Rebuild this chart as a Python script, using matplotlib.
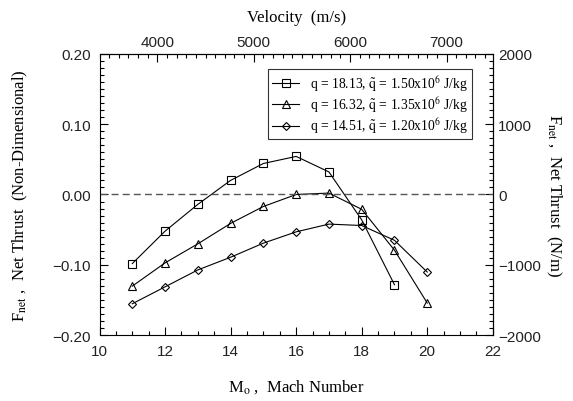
import matplotlib
matplotlib.use("Agg")
import matplotlib.pyplot as plt
from matplotlib.ticker import MultipleLocator, FixedLocator

# ---- data ----
mach_sq = [11, 12, 13, 14, 15, 16, 17, 18, 19]
thrust_sq = [-0.098, -0.052, -0.014, 0.020, 0.044, 0.054, 0.032, -0.036, -0.128]

mach_tri = [11, 12, 13, 14, 15, 16, 17, 18, 19, 20]
thrust_tri = [-0.130, -0.097, -0.070, -0.041, -0.017, 0.000, 0.002, -0.021, -0.079, -0.154]

mach_dia = [11, 12, 13, 14, 15, 16, 17, 18, 19, 20]
thrust_dia = [-0.155, -0.131, -0.107, -0.089, -0.069, -0.053, -0.042, -0.044, -0.065, -0.110]

labels = [
    r"q = 18.13, $\tilde{\mathrm{q}}$ = 1.50x10$^{6}$ J/kg",
    r"q = 16.32, $\tilde{\mathrm{q}}$ = 1.35x10$^{6}$ J/kg",
    r"q = 14.51, $\tilde{\mathrm{q}}$ = 1.20x10$^{6}$ J/kg",
]
x_ticks = [10, 12, 14, 16, 18, 20, 22]
y_ticks = [-0.20, -0.10, 0.00, 0.10, 0.20]
y_ticklabels = ["\u22120.20", "\u22120.10", "0.00", "0.10", "0.20"]
v_ticks = [4000, 5000, 6000, 7000]
n_ticks = [-2000, -1000, 0, 1000, 2000]
n_ticklabels = ["\u22122000", "\u22121000", "0", "1000", "2000"]
sound_speed = 340.0   # m/s per Mach
force_scale = 10000.0  # N/m per non-dimensional unit

plt.rcParams['mathtext.fontset'] = 'stix'
serif = ['Liberation Serif', 'DejaVu Serif']
sans = ['Liberation Sans', 'DejaVu Sans']
tick_fs = 11
title_fs = 12
tick_col = '#222222'

fig = plt.figure(figsize=(5.73, 4.02), dpi=100)
ax = fig.add_axes([0.1737, 0.163, 0.6863, 0.7014])

ax.plot(mach_sq, thrust_sq, color='black', lw=0.8, marker='s', ms=5.3,
        mfc='none', mec='black', mew=0.8, label=labels[0])
ax.plot(mach_tri, thrust_tri, color='black', lw=0.8, marker='^', ms=5.5,
        mfc='none', mec='black', mew=0.8, label=labels[1])
ax.plot(mach_dia, thrust_dia, color='black', lw=0.8, marker='D', ms=3.6,
        mfc='none', mec='black', mew=0.8, label=labels[2])
ax.axhline(0.0, color='#555555', lw=1.0, ls=(0, (5, 3)))

ax.set_xlim(10, 22)
ax.set_ylim(-0.20, 0.20)
ax.xaxis.set_major_locator(FixedLocator(x_ticks))
ax.xaxis.set_minor_locator(MultipleLocator(0.5))
ax.yaxis.set_major_locator(FixedLocator(y_ticks))
ax.set_yticklabels(y_ticklabels)
ax.yaxis.set_minor_locator(MultipleLocator(0.01))
ax.tick_params(which='both', direction='in', top=False, right=False, labelsize=tick_fs)
ax.tick_params(which='major', length=6, width=0.8)
ax.tick_params(which='minor', length=3, width=0.8)
ax.tick_params(axis='x', pad=6)
ax.tick_params(axis='y', pad=6)
for lab in ax.get_xticklabels() + ax.get_yticklabels():
    lab.set_family(sans)
    lab.set_color(tick_col)
for s in ax.spines.values():
    s.set_linewidth(0.8)

# top velocity axis
top = ax.secondary_xaxis('top', functions=(lambda m: m * sound_speed, lambda v: v / sound_speed))
top.xaxis.set_major_locator(FixedLocator(v_ticks))
top.xaxis.set_minor_locator(MultipleLocator(100))
top.tick_params(which='both', direction='in', labelsize=tick_fs, pad=3)
top.tick_params(which='major', length=6, width=0.8)
top.tick_params(which='minor', length=3, width=0.8)
for lab in top.get_xticklabels():
    lab.set_family(sans)
    lab.set_color(tick_col)
top.set_xlabel("Velocity  (m/s)", family=serif, fontsize=title_fs, labelpad=10)

# right force axis
right = ax.secondary_yaxis('right', functions=(lambda f: f * force_scale, lambda n: n / force_scale))
right.yaxis.set_major_locator(FixedLocator(n_ticks))
right.set_yticklabels(n_ticklabels)
right.yaxis.set_minor_locator(MultipleLocator(100))
right.tick_params(which='both', direction='in', labelsize=tick_fs, pad=4)
right.tick_params(which='major', length=6, width=0.8)
right.tick_params(which='minor', length=3, width=0.8)
for lab in right.get_yticklabels():
    lab.set_family(sans)
    lab.set_color(tick_col)
right.set_ylabel(r"F$_{\mathrm{net}}$ ,  Net Thrust  (N/m)", family=serif, fontsize=title_fs,
                 rotation=-90, labelpad=16)

ax.set_xlabel(r"M$_{\mathrm{o}}$ ,  Mach Number", family=serif, fontsize=title_fs, labelpad=14)
ax.set_ylabel(r"F$_{\mathrm{net}}$ ,  Net Thrust  (Non-Dimensional)", family=serif, fontsize=title_fs,
              labelpad=16)

leg = ax.legend(loc='upper right', bbox_to_anchor=(0.948, 0.945), prop={'family': serif, 'size': 9.8},
                frameon=True, fancybox=False, edgecolor='black', handlelength=2.0,
                borderpad=0.3, labelspacing=0.12, handletextpad=0.8, borderaxespad=0)
leg.get_frame().set_linewidth(0.8)

fig.savefig("out.png", dpi=100)
